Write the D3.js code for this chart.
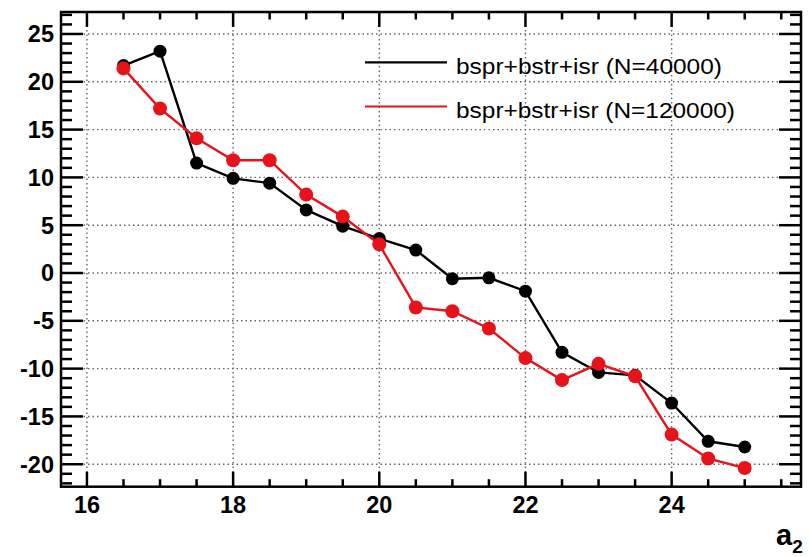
<!DOCTYPE html>
<html><head><meta charset="utf-8">
<script src="https://cdn.jsdelivr.net/npm/d3@7"></script>
<style>body{margin:0;background:#fff}svg{display:block}</style>
</head><body><svg id="c" width="809" height="557"></svg>
<script>
const xValues = [16.5,17,17.5,18,18.5,19,19.5,20,20.5,21,21.5,22,22.5,23,23.5,24,24.5,25];
const blackValues = [21.7,23.2,11.5,9.9,9.4,6.6,4.9,3.6,2.4,-0.6,-0.5,-1.9,-8.3,-10.4,-10.7,-13.6,-17.6,-18.2];
const redValues = [21.4,17.2,14.1,11.8,11.8,8.2,5.9,3.0,-3.6,-4.0,-5.8,-8.9,-11.2,-9.5,-10.8,-16.9,-19.4,-20.4];
const seriesNames = ["bspr+bstr+isr (N=40000)","bspr+bstr+isr (N=120000)"];
const xMajorTicks = [16,18,20,22,24];
const yMajorTicks = [-20,-15,-10,-5,0,5,10,15,20,25];
const xTitle = "a";
const xTitleSub = "2";

const svg = d3.select("#c");
const L=61,R=801,T=12,B=486.7;
const x = d3.scaleLinear().domain([15.645,25.77]).range([L,R]);
const y = d3.scaleLinear().domain([-22.35,27.3]).range([B,T]);

// grid
const grid = svg.append("g").attr("stroke","#666").attr("stroke-width",1.4).attr("stroke-dasharray","1.5,3");
grid.selectAll(".gx").data(xMajorTicks).join("line")
  .attr("x1",d=>x(d)).attr("x2",d=>x(d)).attr("y1",T).attr("y2",B);
grid.selectAll(".gy").data(yMajorTicks).join("line")
  .attr("y1",d=>y(d)).attr("y2",d=>y(d)).attr("x1",L).attr("x2",R);

// ticks
const xMinor = d3.range(16,25.8,0.5);
const yMinor = d3.range(-22,27.5,1);
const tk = svg.append("g").attr("stroke","#000").attr("stroke-width",2.5);
xMinor.forEach(v=>{
  const major = Math.abs(v%2)<1e-9;
  const len = major?15:7.5;
  tk.append("line").attr("x1",x(v)).attr("x2",x(v)).attr("y1",B).attr("y2",B-len);
  tk.append("line").attr("x1",x(v)).attr("x2",x(v)).attr("y1",T).attr("y2",T+len);
});
yMinor.forEach(v=>{
  const major = Math.abs(v%5)<1e-9;
  const len = major?22:11;
  tk.append("line").attr("y1",y(v)).attr("y2",y(v)).attr("x1",L).attr("x2",L+len);
  tk.append("line").attr("y1",y(v)).attr("y2",y(v)).attr("x1",R).attr("x2",R-len);
});

// frame
svg.append("rect").attr("x",L).attr("y",T).attr("width",R-L).attr("height",B-T)
  .attr("fill","none").attr("stroke","#000").attr("stroke-width",2.5);

// tick labels
const font = "'Liberation Sans', Arial, Helvetica, sans-serif";
svg.append("g").selectAll("text").data(yMajorTicks).join("text")
  .attr("x",54).attr("y",d=>y(d)).attr("dy","0.36em").attr("text-anchor","end")
  .attr("font-family",font).attr("font-weight","bold").attr("font-size",23.5)
  .text(d=>d);
svg.append("g").selectAll("text").data(xMajorTicks).join("text")
  .attr("x",d=>x(d)).attr("y",513).attr("text-anchor","middle")
  .attr("font-family",font).attr("font-weight","bold").attr("font-size",23.5)
  .text(d=>d);
const xt = svg.append("text").attr("x",776).attr("y",545)
  .attr("font-family",font).attr("font-weight","bold").attr("font-size",29);
xt.append("tspan").text(xTitle);
xt.append("tspan").attr("font-size",19).attr("dy",8).text(xTitleSub);

// series
const series = [{v:blackValues,c:"#000",r:6.5},{v:redValues,c:"#e8121a",r:7}];
const line = d3.line().x((d,i)=>x(xValues[i])).y(d=>y(d));
series.forEach(s=>{
  svg.append("path").attr("d",line(s.v)).attr("fill","none").attr("stroke",s.c).attr("stroke-width",2.4);
  svg.append("g").selectAll("circle").data(s.v).join("circle")
    .attr("cx",(d,i)=>x(xValues[i])).attr("cy",d=>y(d)).attr("r",s.r).attr("fill",s.c);
});

// legend
const leg = [{c:"#000",y:62.3,ty:73.5},{c:"#e8121a",y:106.5,ty:117.5}];
leg.forEach((l,i)=>{
  svg.append("line").attr("x1",365).attr("x2",447).attr("y1",l.y).attr("y2",l.y)
    .attr("stroke",l.c).attr("stroke-width",2.2);
  svg.append("text").attr("x",456).attr("y",l.ty)
    .attr("font-family",font).attr("font-size",22)
    .attr("textLength", i===0?266:279).attr("lengthAdjust","spacingAndGlyphs")
    .text(seriesNames[i]);
});
</script></body></html>
